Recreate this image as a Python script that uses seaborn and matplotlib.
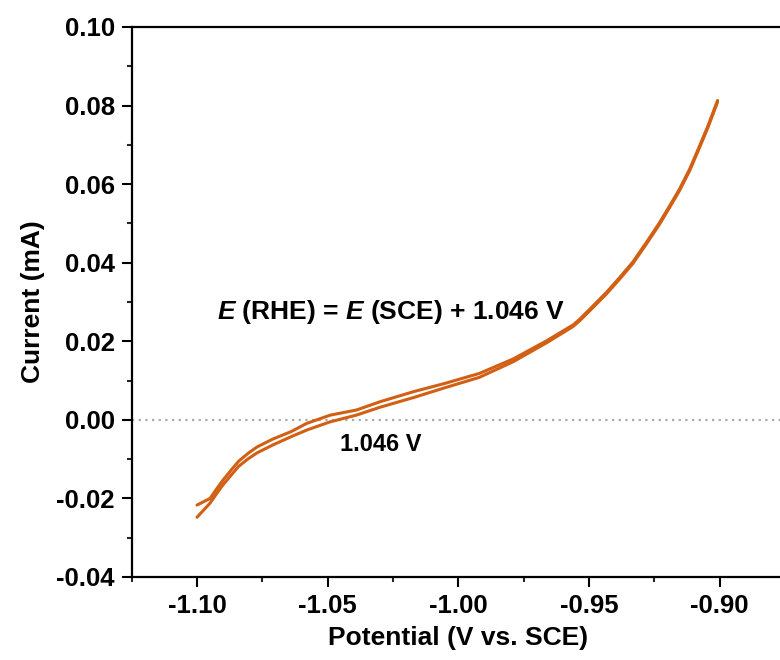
import numpy as np
import pandas as pd
import matplotlib
matplotlib.use("Agg")
import matplotlib.pyplot as plt
from matplotlib.ticker import MultipleLocator, FormatStrFormatter
import seaborn as sns

# ---- data ----
potential = [-1.100, -1.095, -1.0925, -1.090, -1.0867, -1.084, -1.0804, -1.077, -1.071,
             -1.064, -1.058, -1.049, -1.039, -1.030, -1.017, -1.005, -0.992, -0.979,
             -0.966, -0.956, -0.9536, -0.9498, -0.9434, -0.9383, -0.9332, -0.9281,
             -0.9230, -0.9192, -0.9154, -0.9115, -0.9077, -0.9045, -0.9008]
current_upper = [-0.0217, -0.0200, -0.0176, -0.0153, -0.0126, -0.0105, -0.0085, -0.0069,
                 -0.0049, -0.0030, -0.0009, 0.0012, 0.0025, 0.0046, 0.0072, 0.0093, 0.0118,
                 0.0155, 0.0202, 0.0242, 0.0256, 0.0281, 0.0324, 0.0362, 0.0402, 0.0451,
                 0.0502, 0.0544, 0.0587, 0.0638, 0.0697, 0.0748, 0.0813]
current_lower = [-0.0248, -0.0212, -0.0188, -0.0165, -0.0139, -0.0118, -0.0099, -0.0084,
                 -0.0064, -0.0043, -0.0026, -0.0005, 0.0012, 0.0032, 0.0057, 0.0082, 0.0108,
                 0.0148, 0.0197, 0.0238, 0.0252, 0.0277, 0.0320, 0.0358, 0.0398, 0.0447,
                 0.0498, 0.0540, 0.0583, 0.0634, 0.0693, 0.0744, 0.0809]
x_ticks = [-1.10, -1.05, -1.00, -0.95, -0.90]
y_ticks = [-0.04, -0.02, 0.00, 0.02, 0.04, 0.06, 0.08, 0.10]
annotation_main = r"$\mathit{E}$ (RHE) = $\mathit{E}$ (SCE) + 1.046 V"
annotation_zero = "1.046 V"

df = pd.DataFrame({
    "Potential": potential + potential,
    "Current": current_upper + current_lower,
    "branch": ["upper"] * len(potential) + ["lower"] * len(potential),
})

sns.set_theme(style="white")
plt.rcParams["font.family"] = ["Liberation Sans", "DejaVu Sans"]
plt.rcParams["font.weight"] = "bold"
plt.rcParams["text.color"] = "black"
plt.rcParams["axes.labelcolor"] = "black"
plt.rcParams["mathtext.fontset"] = "custom"
plt.rcParams["mathtext.it"] = "Liberation Sans:italic:bold"
plt.rcParams["mathtext.rm"] = "Liberation Sans:bold"
plt.rcParams["mathtext.bf"] = "Liberation Sans:bold"

color = "#D15F14"

fig = plt.figure(figsize=(7.8, 6.6), dpi=100)
ax = fig.add_axes([0.1688, 0.1258, 0.8376, 0.8333])

ax.axhline(0, color="#AAAAAA", lw=1.6, ls=(0, (1, 2)), zorder=1)

sns.lineplot(data=df, x="Potential", y="Current", hue="branch", units="branch",
             estimator=None, sort=False, palette=[color, color], legend=False,
             lw=2.2, ax=ax, zorder=3)

ax.set_xlim(-1.125, -0.875)
ax.set_ylim(-0.04, 0.10)
ax.set_xticks(x_ticks)
ax.set_yticks(y_ticks)
ax.xaxis.set_major_formatter(FormatStrFormatter("%.2f"))
ax.yaxis.set_major_formatter(FormatStrFormatter("%.2f"))
ax.xaxis.set_minor_locator(MultipleLocator(0.025))
ax.yaxis.set_minor_locator(MultipleLocator(0.01))

ax.tick_params(axis="both", which="major", direction="out", length=7, width=1.5,
               labelsize=18.5, colors="black", pad=5, bottom=True, left=True)
ax.tick_params(axis="both", which="minor", direction="out", length=3.8, width=1.5,
               bottom=True, left=True)
for lab in ax.get_xticklabels() + ax.get_yticklabels():
    lab.set_fontweight("bold")

for s in ax.spines.values():
    s.set_linewidth(1.6)
    s.set_color("black")

ax.set_xlabel("Potential (V vs. SCE)", fontsize=19, fontweight="bold", labelpad=6,
              color="black")
ax.set_ylabel("Current (mA)", fontsize=19, fontweight="bold", labelpad=8,
              color="black")

ax.text(-1.0258, 0.0274, annotation_main, fontsize=19, fontweight="bold",
        ha="center", va="center", color="black")
ax.text(-1.0297, -0.0064, annotation_zero, fontsize=17, fontweight="bold",
        ha="center", va="center", color="black")

fig.savefig("out.png", dpi=100)
